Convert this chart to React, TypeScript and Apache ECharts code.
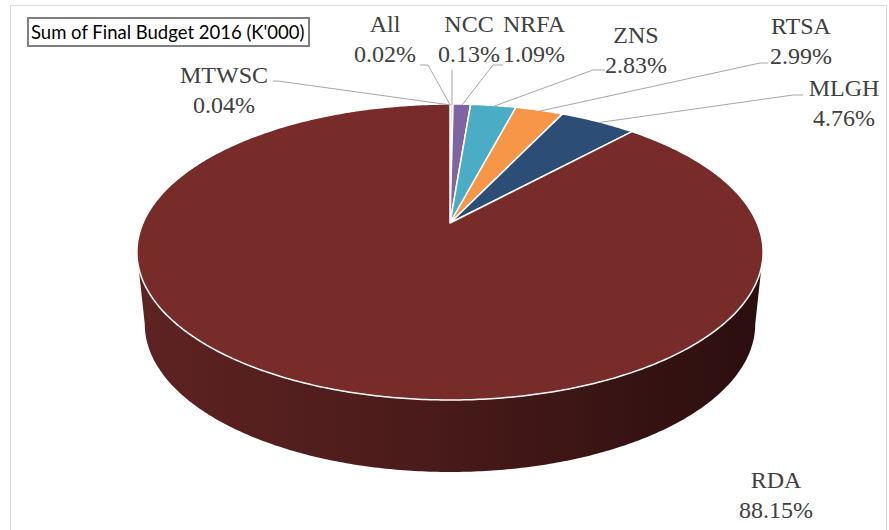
import React, { useEffect, useRef } from "react";
import * as echarts from "echarts";

// ---- data ----
const categories = ["All", "MTWSC", "NCC", "NRFA", "ZNS", "RTSA", "MLGH", "RDA"];
const shares = [0.02, 0.04, 0.13, 1.09, 2.83, 2.99, 4.76, 88.15];
const chartTitle = "Sum of Final Budget 2016 (K'000)";

// ---- styles / layout ----
const sliceColors = ["#4F81BD", "#C0504D", "#9BBB59", "#8064A2", "#4BACC6", "#F79646", "#2C4D75", "#772C2A"];
const sideColorsLeft = ["#3b5f8c", "#8e3b39", "#738a42", "#5f4a78", "#387f93", "#b76f34", "#213a58", "#5e2322"];
const sideColorsRight = ["#1b2c41", "#42191a", "#35401f", "#2c2238", "#1a3b44", "#553418", "#0f1b29", "#2b0e0e"];
const labelCenters = [[385, 24], [224, 75], [469, 24], [534, 24], [636, 35], [801, 26], [844, 88], [776, 480]];
const leaderStarts = [[420, 65], [273, 81], [452, 70], [503, 65], [605, 70], [768, 63], [803, 95], null];
const leaderElbows = [[428, 65], [278, 81], [452, 70], [493, 65], [593, 70], [760, 63], [793, 95], null];

// pie projection (perspective of a tilted disk)
const CX = 450, CY = 223, RA = 307, RB = 142.3, PERSP = 0.196, DEPTH = 72, BOTTOM_K = 0.975;
const LABEL_FONT = "24px 'Liberation Serif', 'Times New Roman', serif";
const LINE_GAP = 30;

const total = shares.reduce((a, b) => a + b, 0);
const cumulative: number[] = [];
shares.reduce((acc, v, i) => { cumulative[i] = acc; return acc + v; }, 0);

function proj(phi: number, bottom: boolean): number[] {
  const u = Math.sin(phi);
  const v = -Math.cos(phi);
  const w = 1 - PERSP * v;
  if (!bottom) return [CX + (RA * u) / w, CY + (RB * v) / w];
  return [CX + (BOTTOM_K * RA * u) / w, CY + DEPTH + (RB * v) / w];
}

// silhouette angles (widest points)
const PHI_R = Math.PI / 2 + Math.asin(PERSP);
const PHI_L = (3 * Math.PI) / 2 - Math.asin(PERSP);

function arc(s: number, e: number, bottom: boolean): number[][] {
  const n = Math.max(2, Math.ceil((e - s) / 0.01) + 1);
  const pts: number[][] = [];
  for (let k = 0; k < n; k++) pts.push(proj(s + ((e - s) * k) / (n - 1), bottom));
  return pts;
}

function angles(i: number, val: number) {
  const s = (cumulative[i] / total) * Math.PI * 2;
  const e = s + (val / total) * Math.PI * 2;
  return [s, e];
}

const sideRender = (params: any, api: any) => {
  const i = params.dataIndex;
  const [s0, e0] = angles(i, api.value(0));
  const s = Math.max(s0, PHI_R);
  const e = Math.min(e0, PHI_L);
  if (e <= s) return { type: "group", children: [] };
  const pts = arc(s, e, false).concat(arc(s, e, true).reverse());
  return {
    type: "polygon",
    shape: { points: pts },
    style: {
      fill: new echarts.graphic.LinearGradient(0, 0, 1, 0, [
        { offset: 0, color: sideColorsLeft[i] },
        { offset: 0.45, color: echarts.color.lerp(0.4, [sideColorsLeft[i], sideColorsRight[i]]) },
        { offset: 1, color: sideColorsRight[i] },
      ]),
      stroke: "none",
    },
  };
};

const topRender = (params: any, api: any) => {
  const i = params.dataIndex;
  const val = api.value(0);
  const [s, e] = angles(i, val);
  const pts = [[CX, CY]].concat(arc(s, e, false));
  return {
    type: "polygon",
    shape: { points: pts },
    style: { fill: sliceColors[i], stroke: "#ffffff", lineWidth: 1.5, lineJoin: "round" },
  };
};

const labelRender = (params: any, api: any) => {
  const i = params.dataIndex;
  const val = api.value(0);
  const [s, e] = angles(i, val);
  const children: any[] = [];
  const st = leaderStarts[i];
  const el = leaderElbows[i];
  if (st && el) {
    const p = proj((s + e) / 2, false);
    children.push({
      type: "polyline",
      shape: { points: [st, el, [p[0], p[1] + 1]] },
      style: { stroke: "#a6a6a6", lineWidth: 1, fill: "none" },
    });
  }
  const [lx, ly] = labelCenters[i];
  children.push({
    type: "text",
    style: { text: categories[i], x: lx, y: ly, font: LABEL_FONT, fill: "#404040", align: "center", verticalAlign: "middle" },
  });
  children.push({
    type: "text",
    style: { text: val.toFixed(2) + "%", x: lx, y: ly + LINE_GAP, font: LABEL_FONT, fill: "#404040", align: "center", verticalAlign: "middle" },
  });
  return { type: "group", children };
};

export default function App() {
  const ref = useRef<HTMLDivElement>(null);
  useEffect(() => {
    if (!ref.current) return;
    const chart = echarts.init(ref.current, null, { renderer: "svg" });
    const data = shares.map((v, i) => ({ name: categories[i], value: v }));
    chart.setOption({
      animation: false,
      backgroundColor: "#ffffff",
      graphic: [
        {
          type: "rect",
          shape: { x: 10.5, y: 5.5, width: 876, height: 540 },
          style: { fill: "none", stroke: "#d9d9d9", lineWidth: 1 },
          z: 0,
        },
        {
          type: "rect",
          shape: { x: 28, y: 18, width: 281, height: 28 },
          style: { fill: "#ffffff", stroke: "#808080", lineWidth: 2 },
          z: 10,
        },
        {
          type: "text",
          style: { text: chartTitle, x: 31, y: 32, font: "18.5px Lato, 'Noto Sans', sans-serif", fill: "#000000", verticalAlign: "middle" },
          z: 11,
        },
      ],
      series: [
        { type: "custom", coordinateSystem: "none", renderItem: sideRender, data, z: 1, silent: true },
        { type: "custom", coordinateSystem: "none", renderItem: topRender, data, z: 2, silent: true },
        { type: "custom", coordinateSystem: "none", renderItem: labelRender, data, z: 3, silent: true },
      ],
    });
    return () => chart.dispose();
  }, []);
  return <div ref={ref} style={{ position: "absolute", left: 0, top: 0, width: 889, height: 530 }} />;
}
